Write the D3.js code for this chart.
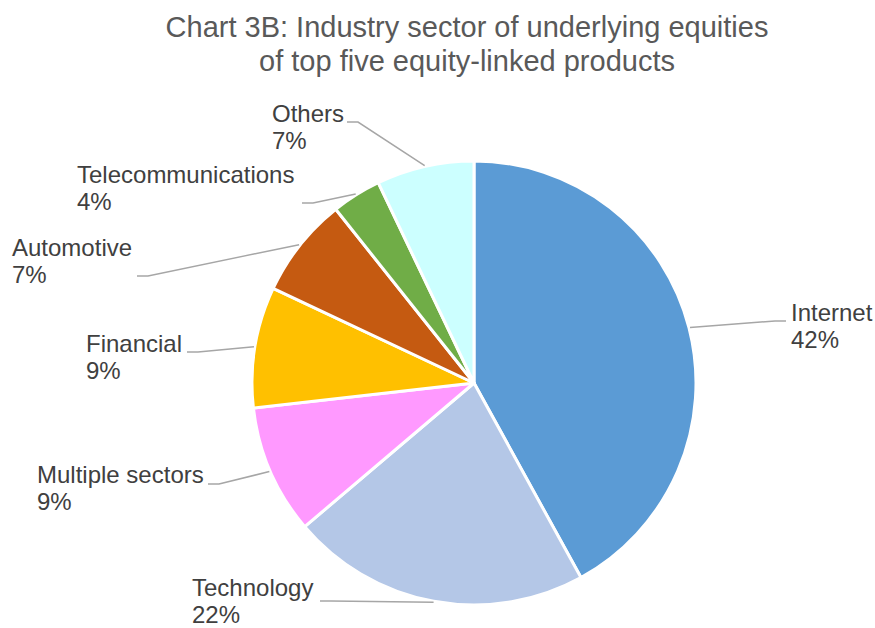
<!DOCTYPE html>
<html>
<head>
<meta charset="utf-8">
<script src="https://cdn.jsdelivr.net/npm/d3@7"></script>
<style>
  html, body { margin: 0; padding: 0; background: #fff; }
  svg { display: block; font-family: "Liberation Sans", Arial, sans-serif; }
</style>
</head>
<body>
<svg id="chart" width="875" height="628"></svg>
<script>
// ---- data ----
const categories = ["Internet", "Technology", "Multiple sectors", "Financial", "Automotive", "Telecommunications", "Others"];
const shares = [42.0, 21.8, 9.4, 8.8, 7.3, 3.6, 7.1];
const sliceColors = ["#5B9BD5", "#B4C7E7", "#FF99FF", "#FFC000", "#C55A11", "#70AD47", "#CCFFFF"];
const titleLines = ["Chart 3B: Industry sector of underlying equities", "of top five equity-linked products"];

// ---- layout (label placement, not data) ----
const labelLayout = [
  { x: 791, y: 321, lineY: 321, endX: 786, side: "right" },
  { x: 192, y: 596, lineY: 601, endX: 320, side: "left" },
  { x: 37,  y: 483, lineY: 484, endX: 208, side: "left" },
  { x: 86,  y: 352, lineY: 352, endX: 187, side: "left" },
  { x: 12,  y: 256, lineY: 276, endX: 137, side: "left" },
  { x: 77,  y: 183, lineY: 203, endX: 302, side: "left" },
  { x: 272, y: 122, lineY: 122, endX: 347, side: "left" }
];

const cx = 474, cy = 383, R = 222;
const svg = d3.select("#chart");

// title
svg.append("g").selectAll("text").data(titleLines).join("text")
  .attr("x", 467).attr("y", (d, i) => 37 + i * 34)
  .attr("text-anchor", "middle")
  .attr("font-size", 29).attr("fill", "#595959")
  .text(d => d);

const data = categories.map((c, i) => ({ name: c, value: shares[i], color: sliceColors[i] }));
const pie = d3.pie().value(d => d.value).sort(null).startAngle(0).endAngle(2 * Math.PI);
const arcs = pie(data);
const arc = d3.arc().innerRadius(0).outerRadius(R);

const g = svg.append("g").attr("transform", `translate(${cx},${cy})`);
g.selectAll("path").data(arcs).join("path")
  .attr("d", arc)
  .attr("fill", d => d.data.color)
  .attr("stroke", "#fff").attr("stroke-width", 3).attr("stroke-linejoin", "round");

// leader lines
const lines = svg.append("g");
arcs.forEach((a, i) => {
  const L = labelLayout[i];
  const mid = (a.startAngle + a.endAngle) / 2;
  const px = cx + Math.sin(mid) * (R + 1);
  const py = cy - Math.cos(mid) * (R + 1);
  const elbowX = L.side === "left" ? L.endX + 11 : L.endX - 11;
  const pts = [[px, py], [elbowX, L.lineY], [L.endX, L.lineY]];
  lines.append("path")
    .attr("d", d3.line()(pts))
    .attr("fill", "none").attr("stroke", "#A6A6A6").attr("stroke-width", 1.5);
});

// labels
const labels = svg.append("g").attr("font-size", 24).attr("fill", "#404040");
arcs.forEach((a, i) => {
  const L = labelLayout[i];
  const t = labels.append("text").attr("x", L.x).attr("y", L.y);
  t.append("tspan").attr("x", L.x).text(a.data.name);
  t.append("tspan").attr("x", L.x).attr("dy", 27).text(Math.round(a.data.value) + "%");
});
</script>
</body>
</html>
